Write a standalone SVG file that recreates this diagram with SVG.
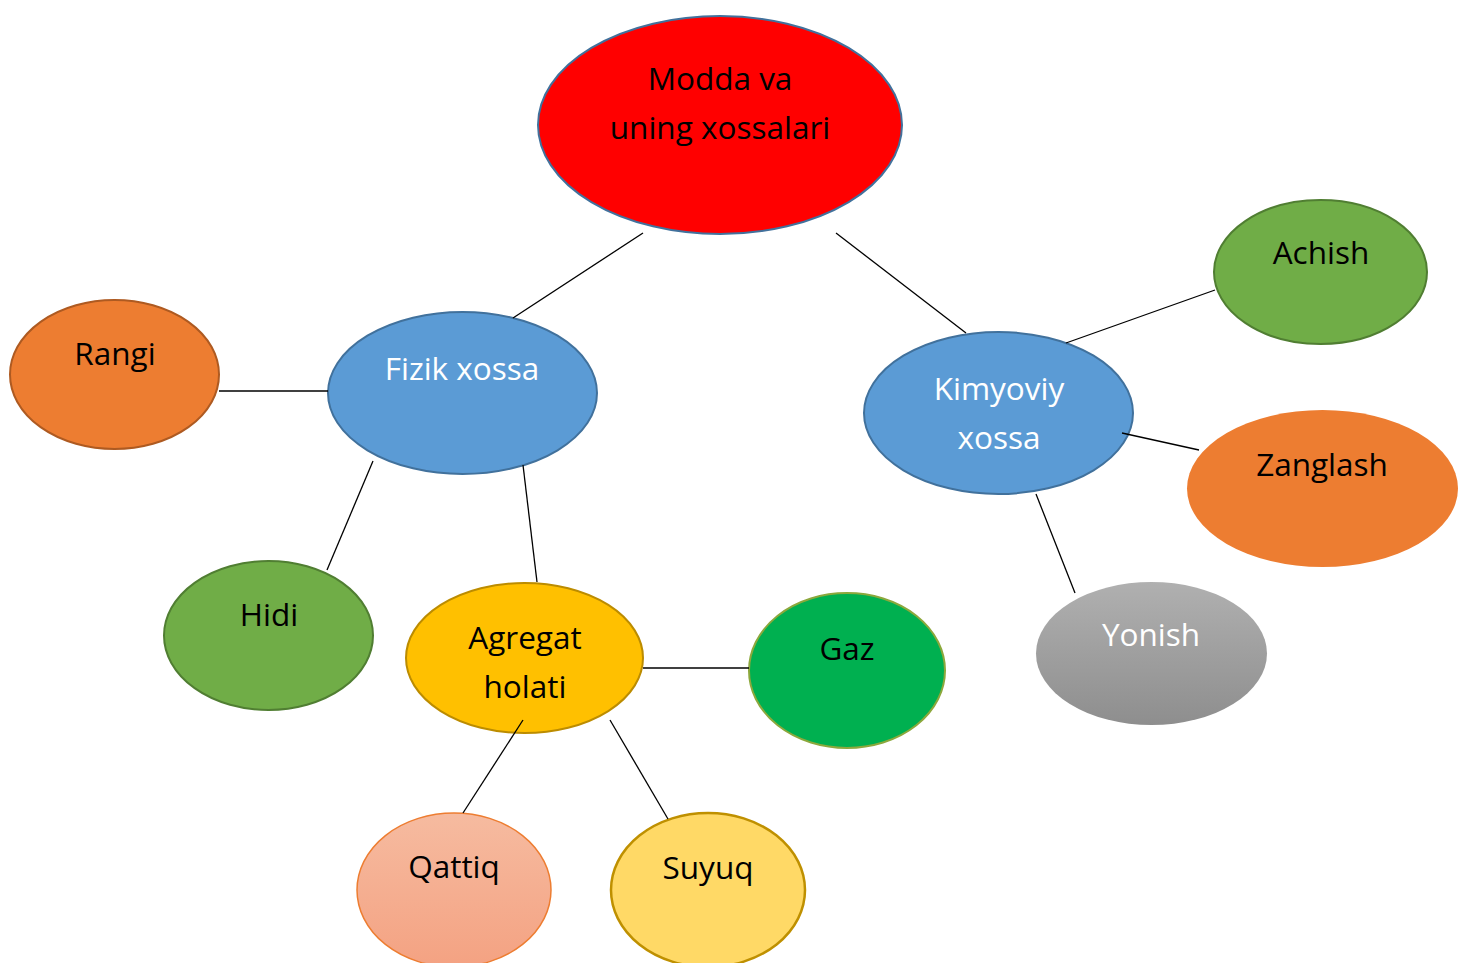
<svg xmlns="http://www.w3.org/2000/svg" width="1464" height="963" viewBox="0 0 1464 963">
<style>
text{font-family:"Open Sans","Noto Sans","DejaVu Sans",sans-serif;font-size:31.5px;text-anchor:middle}
.w{fill:#ffffff}
.b{fill:#000000}
.conn line{stroke:#000;stroke-width:1.3}
</style>
<defs>
<linearGradient id="gGray" x1="0" y1="0" x2="0" y2="1"><stop offset="0" stop-color="#B0B0B0"/><stop offset="1" stop-color="#8E8E8E"/></linearGradient>
<linearGradient id="gPeach" x1="0" y1="0" x2="0" y2="1"><stop offset="0" stop-color="#F6BBA0"/><stop offset="1" stop-color="#F4A282"/></linearGradient>
</defs>
<rect width="1464" height="963" fill="#fff"/>
<g id="modda"><ellipse cx="720" cy="125" rx="182" ry="109" fill="#FF0000" stroke="#41719C" stroke-width="2"/><text class="b" x="720" y="90">Modda va</text><text class="b" x="720" y="139">uning xossalari</text></g>
<g id="fizik"><ellipse cx="462.5" cy="393" rx="134.5" ry="81" fill="#5B9BD5" stroke="#41719C" stroke-width="2"/><text class="w" x="462" y="380">Fizik xossa</text></g>
<g id="kimyoviy"><ellipse cx="998.5" cy="413" rx="134.5" ry="81" fill="#5B9BD5" stroke="#41719C" stroke-width="2"/><text class="w" x="999" y="400">Kimyoviy</text><text class="w" x="999" y="449">xossa</text></g>
<g id="rangi"><ellipse cx="114.5" cy="374.5" rx="104.5" ry="74.5" fill="#ED7D31" stroke="#AE5A21" stroke-width="2"/><text class="b" x="115" y="365">Rangi</text></g>
<g id="hidi"><ellipse cx="268.5" cy="635.5" rx="104.5" ry="74.5" fill="#70AD47" stroke="#507E32" stroke-width="2"/><text class="b" x="269" y="626">Hidi</text></g>
<g id="agregat"><ellipse cx="524.5" cy="658" rx="118.5" ry="75" fill="#FFC000" stroke="#BC8C00" stroke-width="2"/><text class="b" x="525" y="649">Agregat</text><text class="b" x="525" y="698">holati</text></g>
<g id="gaz"><ellipse cx="847" cy="670.5" rx="98" ry="77.5" fill="#00B050" stroke="#8CA83C" stroke-width="2"/><text class="b" x="847" y="660">Gaz</text></g>
<g id="qattiq"><ellipse cx="454" cy="890" rx="97" ry="77" fill="url(#gPeach)" stroke="#ED7D31" stroke-width="1.5"/><text class="b" x="454" y="878">Qattiq</text></g>
<g id="suyuq"><ellipse cx="708" cy="890" rx="97" ry="77" fill="#FFD966" stroke="#BF9000" stroke-width="2.5"/><text class="b" x="708" y="879">Suyuq</text></g>
<g id="achish"><ellipse cx="1320.5" cy="272" rx="106.5" ry="72" fill="#70AD47" stroke="#507E32" stroke-width="2"/><text class="b" x="1321" y="264">Achish</text></g>
<g id="zanglash"><ellipse cx="1322.5" cy="488.5" rx="135.5" ry="78.5" fill="#ED7D31"/><text class="b" x="1322" y="476">Zanglash</text></g>
<g id="yonish"><ellipse cx="1151.5" cy="653.5" rx="115.5" ry="71.5" fill="url(#gGray)"/><text class="w" x="1151" y="646">Yonish</text></g>
<g class="conn" id="connectors">
<line x1="643" y1="233" x2="513" y2="318"/>
<line x1="836" y1="233" x2="966" y2="333"/>
<line x1="219" y1="391" x2="328" y2="391"/>
<line x1="373" y1="461" x2="327" y2="570"/>
<line x1="523" y1="465" x2="537" y2="582"/>
<line x1="643" y1="668" x2="749" y2="668"/>
<line x1="523" y1="720" x2="463" y2="813"/>
<line x1="610" y1="720" x2="668" y2="819"/>
<line x1="1066" y1="343" x2="1215" y2="290"/>
<line x1="1122" y1="433" x2="1199" y2="450"/>
<line x1="1036" y1="494" x2="1075" y2="593"/>
</g>
</svg>
